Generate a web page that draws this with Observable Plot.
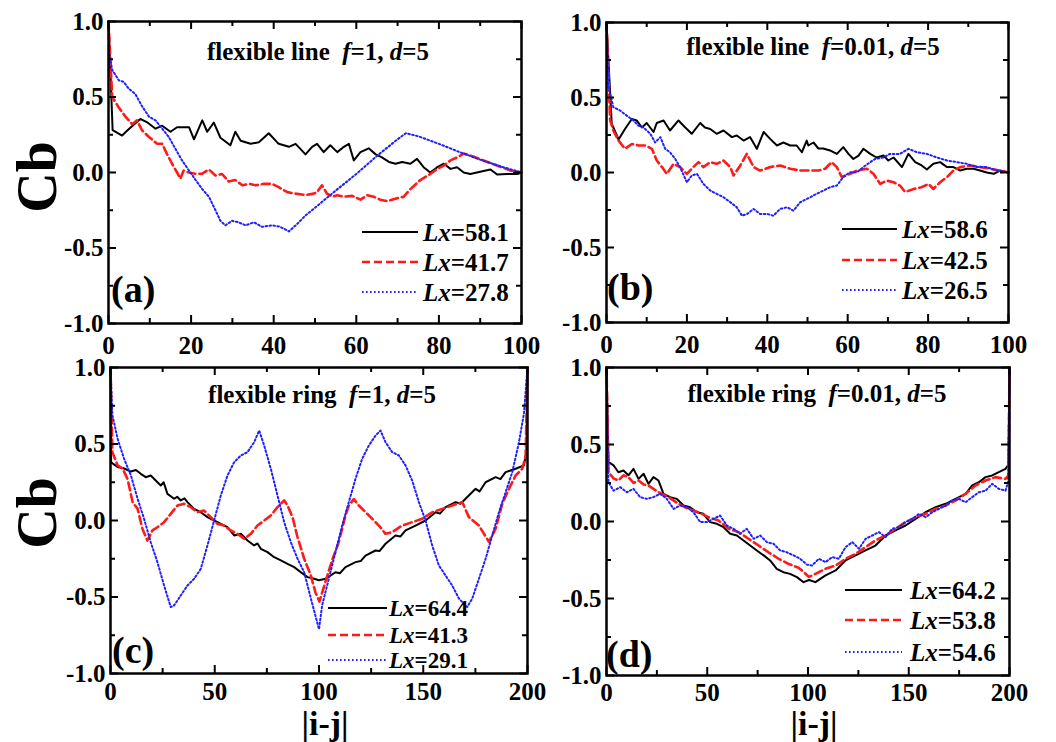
<!DOCTYPE html>
<html><head><meta charset="utf-8">
<script src="https://cdn.jsdelivr.net/npm/d3@7"></script>
<script src="https://cdn.jsdelivr.net/npm/@observablehq/plot@0.6"></script>
<style>
html,body{margin:0;padding:0;background:#fff;}
#root{position:relative;width:1056px;height:742px;overflow:hidden;background:#fff;font-family:"Liberation Serif","Times New Roman",serif;font-weight:bold;color:#000;}
.t{position:absolute;white-space:pre;line-height:1;}
.t i{font-style:italic;}
</style></head><body><div id="root"></div>
<script>
// ---------- data ----------
const xMajorLine = [0,20,40,60,80,100];
const xMinorLine = [10,30,50,70,90];
const xMajorRing = [0,50,100,150,200];
const xMinorRing = [25,75,125,175];
const yMajor = [-1,-0.5,0,0.5,1];
const yMinor = [-0.75,-0.25,0.25,0.75];

const aBlack = [[0,1],[1,0.28],[3.3,0.245],[5,0.29],[7.7,0.355],[9.5,0.33],[11.4,0.29],[13,0.31],[15,0.27],[16.6,0.30],[19.5,0.30],[20.7,0.22],[22.7,0.345],[23.9,0.27],[25.5,0.33],[27.1,0.23],[29.5,0.18],[30.7,0.27],[32,0.21],[34.4,0.19],[36.4,0.20],[38.8,0.26],[41.2,0.19],[43.7,0.17],[45.3,0.19],[47.7,0.12],[49.3,0.17],[50.5,0.19],[52.1,0.135],[53.7,0.18],[55.4,0.135],[57,0.17],[58.2,0.19],[59.4,0.08],[61,0.135],[63,0.16],[64.7,0.12],[66.2,0.10],[67.9,0.07],[69.5,0.058],[71.1,0.07],[73.1,0.058],[74.7,0.09],[76.3,0.035],[77.9,0.0],[79.6,0.035],[81.2,0.058],[82.8,0.024],[84.4,0.035],[86,0.0],[87.6,-0.01],[89.2,0.0],[90.8,0.01],[92.5,0.02],[94.1,-0.013],[96.5,-0.01],[99,-0.01],[100,0]];
const aRed = [[0,1],[0.9,0.50],[2.5,0.43],[4.1,0.37],[5.7,0.32],[6.9,0.345],[8.1,0.28],[9.8,0.235],[11.8,0.19],[13,0.19],[14.2,0.12],[15.4,0.058],[16.6,0],[17.4,-0.04],[18.2,0.013],[19.5,0],[21,-0.008],[22.7,-0.008],[24.3,0.02],[25.9,-0.02],[27.5,-0.01],[29.1,-0.06],[30.7,-0.05],[32.4,-0.085],[34,-0.075],[35.6,-0.085],[37.6,-0.075],[39.6,-0.075],[41.2,-0.097],[43.3,-0.13],[45.3,-0.14],[47.7,-0.15],[49.7,-0.14],[50.5,-0.13],[51.7,-0.085],[52.9,-0.14],[54.2,-0.16],[55.4,-0.15],[57,-0.16],[59,-0.155],[61,-0.18],[62.7,-0.15],[64.2,-0.16],[65.8,-0.18],[67.5,-0.19],[69.9,-0.17],[71.5,-0.16],[73.1,-0.11],[75.5,-0.05],[77.9,-0.01],[79.6,0.024],[81.2,0.046],[82.8,0.08],[84.4,0.10],[86,0.125],[87.6,0.113],[90.8,0.08],[94.1,0.046],[97.3,0.013],[100,0]];
const aBlue = [[0,1],[0.2,0.78],[0.9,0.68],[2.5,0.61],[3.7,0.60],[4.9,0.555],[6.5,0.52],[8.1,0.44],[9.8,0.37],[11.4,0.345],[13,0.29],[14.6,0.235],[16.2,0.157],[17.8,0.08],[19.5,0.013],[21.1,-0.05],[22.7,-0.11],[24.3,-0.16],[25.9,-0.25],[27.1,-0.32],[28.3,-0.35],[29.9,-0.32],[31.5,-0.33],[33.2,-0.35],[35.2,-0.33],[37.2,-0.36],[39.6,-0.35],[41.6,-0.36],[43.7,-0.39],[45.7,-0.34],[47.7,-0.285],[49.7,-0.24],[55,-0.12],[60,-0.01],[65,0.11],[70,0.22],[72,0.26],[75,0.24],[80,0.19],[85,0.135],[90,0.085],[95,0.04],[100,0]];

const bBlack = [[0,1],[1.3,0.325],[3,0.22],[4.6,0.29],[6.3,0.357],[7.5,0.347],[8.8,0.30],[10,0.33],[11.7,0.27],[12.5,0.33],[14.2,0.347],[15.8,0.28],[17.9,0.347],[19.6,0.30],[21.2,0.258],[23.3,0.33],[24.5,0.30],[25.8,0.29],[27.4,0.258],[29.1,0.28],[31.2,0.236],[32.4,0.247],[34.1,0.213],[35.7,0.236],[37.4,0.158],[39.1,0.27],[40.7,0.224],[42.4,0.18],[44,0.2],[45.7,0.18],[47.3,0.18],[48.6,0.135],[49.8,0.213],[50.2,0.18],[51.5,0.2],[52.7,0.16],[53.9,0.16],[55.6,0.147],[57.3,0.124],[58.9,0.169],[60.2,0.124],[61.4,0.09],[62.7,0.113],[63.9,0.158],[65.6,0.124],[67.2,0.1],[68.9,0.113],[70.1,0.08],[71.4,0.1],[73.5,0.036],[75.1,0.124],[76.8,0.069],[78.4,0.047],[79.7,0.02],[81.3,0.058],[83,0.069],[84.7,0.036],[86.3,0.036],[88,0.013],[89.6,0.025],[91.3,0.025],[92.9,0.013],[94.6,0],[96.3,-0.009],[97.9,0.013],[100,0]];
const bRed = [[0,1],[0.9,0.35],[1.7,0.28],[3,0.213],[4.6,0.158],[6.3,0.19],[8,0.18],[9.6,0.18],[11.3,0.158],[12.5,0.08],[13.8,0.036],[15,-0.009],[16.7,0.058],[18.3,0.036],[20,-0.009],[21.6,0.036],[22.9,0.069],[24.1,0.036],[25.8,0.069],[27.4,0.058],[29.1,0.08],[30.8,0.036],[31.6,-0.02],[33.3,0.047],[34.9,0.124],[36.6,0.036],[38.2,0.013],[40.7,0.036],[43.2,0.047],[45.7,0.025],[48.2,0.013],[50.7,0.013],[52.7,0.013],[54.4,0.025],[56,0.069],[57.3,0.036],[58.5,-0.03],[60.6,-0.009],[62.3,0.013],[64.8,0.025],[66.4,-0.009],[68.1,-0.076],[69.7,-0.054],[71.4,-0.065],[73,-0.087],[74.3,-0.13],[76.4,-0.11],[78.4,-0.098],[80.1,-0.076],[81.3,-0.11],[83,-0.065],[84.7,-0.03],[86.3,0.013],[88,0.036],[90.5,0.047],[93,0.036],[95.5,0.025],[97.9,0.013],[100,0]];
const bBlue = [[0,1],[0.5,0.57],[1.7,0.436],[3.4,0.413],[5,0.38],[6.7,0.347],[7.9,0.313],[9.2,0.30],[10.9,0.258],[12.1,0.2],[13.4,0.236],[14.6,0.158],[15.8,0.135],[17.1,0.09],[18.3,0.036],[20,-0.065],[21.2,-0.02],[22.5,-0.009],[24.1,-0.076],[25.8,-0.12],[27.4,-0.142],[29.1,-0.165],[30.8,-0.198],[32.4,-0.232],[33.7,-0.288],[35,-0.276],[36.6,-0.243],[38.2,-0.276],[39.9,-0.276],[41.5,-0.288],[43.2,-0.243],[44.9,-0.232],[46.5,-0.254],[48.2,-0.198],[50.7,-0.165],[52.3,-0.142],[54,-0.12],[55.6,-0.098],[57.3,-0.087],[58.9,-0.03],[60.6,0.002],[62.3,0.002],[63.9,0.036],[65.6,0.069],[66.8,0.09],[68.9,0.1],[70.5,0.124],[73,0.124],[75.1,0.158],[77.2,0.135],[79.7,0.124],[82.2,0.1],[84.7,0.08],[87.2,0.069],[89.6,0.058],[92.1,0.036],[94.6,0.036],[97.1,0.013],[100,0]];

const cBlack = [[0,1],[0.3,0.38],[3.4,0.35],[6.6,0.34],[9.8,0.32],[12.2,0.33],[14.5,0.305],[16.9,0.283],[19.3,0.294],[21.7,0.261],[24.1,0.229],[25.5,0.25],[27.3,0.174],[30.5,0.142],[32,0.155],[33.7,0.131],[35.5,0.145],[36.9,0.12],[40.1,0.076],[43.3,0.054],[46.5,0.022],[49.7,0],[52.9,-0.022],[56.1,-0.044],[59.3,-0.098],[62.5,-0.087],[65.7,-0.131],[68.9,-0.163],[70.5,-0.15],[72.1,-0.185],[75.3,-0.207],[78.5,-0.24],[81.7,-0.261],[84.9,-0.283],[88.1,-0.305],[91.3,-0.338],[94.5,-0.37],[97.7,-0.381],[100,-0.39],[103.1,-0.381],[107.9,-0.338],[110,-0.345],[112.7,-0.305],[117.5,-0.272],[120,-0.265],[122.3,-0.229],[127.1,-0.196],[129,-0.2],[131.9,-0.152],[136.7,-0.098],[139,-0.105],[141.5,-0.065],[146.3,-0.033],[151.1,0],[155.9,0.054],[158,0.045],[160.7,0.087],[165.5,0.12],[168,0.11],[170.3,0.142],[175.1,0.207],[177,0.19],[179.9,0.25],[184.7,0.283],[187,0.27],[189.5,0.316],[194.3,0.338],[198.3,0.36],[199.5,0.45],[200,1]];
const cRed = [[0,1],[0.9,0.447],[3.4,0.36],[5.8,0.34],[8.2,0.27],[10.6,0.12],[13,0.076],[15.3,-0.054],[17.7,-0.131],[20.1,-0.065],[22.5,-0.044],[25.7,-0.011],[28.9,0.043],[32.1,0.098],[35.3,0.109],[38.5,0.087],[41.7,0.054],[44.9,0.065],[48.1,0.022],[51.3,-0.022],[54.5,-0.033],[57.7,-0.065],[60.9,-0.087],[64.1,-0.12],[67.3,-0.087],[70.5,-0.033],[73.7,0],[76.9,0.033],[80.1,0.087],[83.3,0.131],[84.9,0.098],[87.3,0.022],[89.7,-0.109],[92.9,-0.25],[96.1,-0.36],[98.3,-0.47],[100.2,-0.53],[103.1,-0.40],[106.3,-0.26],[109.5,-0.14],[112.7,0.033],[114.3,0.098],[116.7,0.14],[119.1,0.098],[123.9,0.033],[128.7,-0.033],[131.9,-0.087],[135.1,-0.076],[139.9,-0.033],[144.7,-0.011],[149.5,0.011],[154.3,0.054],[159.1,0.076],[163.9,0.098],[168.7,0.12],[171.9,0.022],[176.7,-0.033],[181.5,-0.14],[184.7,-0.054],[187.9,0.109],[191.1,0.207],[194.3,0.294],[197.5,0.338],[199.1,0.42],[200,1]];
const cBlue = [[0,1],[0.9,0.69],[3.4,0.534],[6.6,0.40],[9.8,0.294],[13,0.142],[16.1,0.011],[19.3,-0.142],[22.5,-0.272],[25.7,-0.425],[28.9,-0.566],[30.5,-0.555],[33.7,-0.49],[36.9,-0.425],[40.1,-0.381],[43.3,-0.316],[46.5,-0.163],[49.7,0],[52.9,0.163],[56.1,0.294],[59.3,0.381],[62.5,0.425],[65.7,0.447],[68.9,0.512],[71.3,0.588],[73.7,0.49],[76.9,0.338],[80.1,0.163],[83.3,-0.011],[86.5,-0.142],[89.7,-0.25],[92.9,-0.338],[96.1,-0.51],[100,-0.71],[101.5,-0.555],[104.7,-0.381],[107.9,-0.207],[111.1,-0.033],[114.3,0.12],[117.5,0.272],[120.7,0.403],[123.9,0.49],[127.1,0.555],[129.5,0.588],[131.9,0.512],[135.1,0.447],[138.3,0.425],[141.5,0.36],[144.7,0.261],[147.9,0.12],[151.1,0],[154.3,-0.163],[157.5,-0.294],[160.7,-0.36],[163.9,-0.425],[167.1,-0.51],[171.1,-0.566],[173.5,-0.51],[176.7,-0.381],[179.9,-0.25],[183.1,-0.098],[186.3,0.054],[189.5,0.185],[192.7,0.316],[195.9,0.512],[198.3,0.7],[200,1]];

const dBlack = [[0,1],[1,0.385],[3.5,0.364],[5.9,0.32],[8.4,0.331],[10.9,0.3],[13.4,0.342],[15.9,0.277],[18.4,0.31],[20.8,0.245],[23.3,0.288],[25.8,0.266],[28.3,0.18],[31.6,0.158],[34.9,0.147],[38.2,0.104],[41.5,0.093],[44.8,0.06],[48.1,0.05],[51.4,-0.004],[54.8,-0.015],[58.1,-0.037],[61.4,-0.08],[64.7,-0.091],[68,-0.123],[71.3,-0.156],[74.6,-0.188],[78,-0.22],[81.2,-0.253],[84.5,-0.307],[87.8,-0.329],[91.1,-0.34],[94.5,-0.361],[97.8,-0.394],[100.5,-0.38],[103.7,-0.394],[108.7,-0.35],[113.7,-0.318],[118.6,-0.253],[123.6,-0.22],[128.5,-0.188],[133.5,-0.156],[138.5,-0.091],[143.4,-0.058],[148.4,-0.026],[153.4,0.017],[158.3,0.06],[163.3,0.093],[168.3,0.115],[173.2,0.147],[178.2,0.18],[181.5,0.234],[184.8,0.255],[188.1,0.288],[191.4,0.299],[194.7,0.32],[198,0.342],[199.5,0.37],[200,1]];
const dRed = [[0,1],[1,0.32],[3.5,0.28],[5.9,0.266],[8.4,0.3],[10.9,0.288],[13.4,0.25],[15.9,0.266],[18.4,0.24],[20.8,0.234],[25.8,0.19],[30.8,0.158],[35.7,0.115],[40.7,0.082],[45.7,0.06],[50.6,0.028],[55.6,0.006],[60.6,-0.047],[65.5,-0.069],[70.5,-0.112],[75.5,-0.156],[80.4,-0.2],[85.4,-0.242],[90.3,-0.275],[95.3,-0.3],[98,-0.33],[100.5,-0.36],[103.7,-0.34],[108.7,-0.307],[113.7,-0.286],[118.6,-0.242],[123.6,-0.21],[128.5,-0.167],[133.5,-0.123],[138.5,-0.091],[143.4,-0.047],[148.4,-0.004],[153.4,0.028],[158.3,0.05],[163.3,0.082],[168.3,0.104],[173.2,0.136],[178.2,0.18],[183.1,0.234],[188.1,0.266],[193,0.288],[198,0.277],[199.5,0.3],[200,1]];
const dBlue = [[0,1],[1,0.255],[3.5,0.2],[6.8,0.223],[10.1,0.19],[13.4,0.212],[16.7,0.158],[20,0.147],[23.3,0.158],[26.6,0.18],[29.9,0.147],[33.3,0.082],[36.6,0.104],[39.9,0.093],[43.2,0.06],[46.5,-0.004],[49.8,-0.004],[53.1,0.017],[56.4,0.039],[59.7,-0.026],[63,-0.047],[66.3,-0.08],[69.6,-0.047],[73,-0.112],[76.3,-0.091],[79.6,-0.134],[82.9,-0.145],[86.2,-0.188],[89.5,-0.2],[92.8,-0.22],[96.1,-0.242],[99.4,-0.28],[102,-0.286],[105.4,-0.242],[108.7,-0.264],[112,-0.231],[115.3,-0.242],[118.6,-0.167],[122,-0.134],[125.3,-0.177],[128.6,-0.112],[131.9,-0.091],[135.2,-0.069],[138.5,-0.102],[141.8,-0.047],[145.1,-0.037],[148.4,-0.004],[151.8,0.017],[155.1,0.05],[158.4,0.028],[161.7,0.06],[165,0.082],[168.3,0.104],[171.6,0.136],[174.9,0.147],[178.2,0.125],[181.5,0.158],[184.8,0.19],[188.1,0.2],[191.4,0.245],[194.7,0.212],[198,0.2],[199.3,0.255],[200,1]];

const legendA = ["58.1","41.7","27.8"];
const legendB = ["58.6","42.5","26.5"];
const legendC = ["64.4","41.3","29.1"];
const legendD = ["64.2","53.8","54.6"];

// ---------- styles ----------
const FONT = "'Liberation Serif','Times New Roman',serif";
const seriesStyle = [
  {stroke:"#000000", strokeWidth:2, dash:null},
  {stroke:"#ff1a1a", strokeWidth:2.6, dash:"8,4"},
  {stroke:"#2020ff", strokeWidth:2, dash:"1.6,2.4"}
];

const root = document.getElementById("root");

function panel({left, top, width, height, ml, mr, mt, mb, xDomain, xMajor, xMinor, series, xPad}) {
  const fw = width - ml - mr, fh = height - mt - mb;
  const marks = [];
  series.forEach((s, i) => {
    const st = seriesStyle[i];
    marks.push(Plot.line(s, {x: d => d[0], y: d => d[1], stroke: st.stroke, strokeWidth: st.strokeWidth,
      strokeDasharray: st.dash, strokeLinejoin: "round"}));
  });
  // inward ticks on all four sides
  const tk = (vals, len, kind) => {
    const o = {stroke: "#000", strokeWidth: 2};
    if (kind === "x") {
      marks.push(Plot.ruleX(vals, {...o, insetTop: fh - len}));
      marks.push(Plot.ruleX(vals, {...o, insetBottom: fh - len}));
    } else {
      marks.push(Plot.ruleY(vals, {...o, insetRight: fw - len}));
      marks.push(Plot.ruleY(vals, {...o, insetLeft: fw - len}));
    }
  };
  tk(xMajor, 8, "x"); tk(xMinor, 5, "x");
  tk(yMajor, 8, "y"); tk(yMinor, 5, "y");
  marks.push(Plot.frame({stroke: "#000", strokeWidth: 2.5}));
  marks.push(Plot.axisX({ticks: xMajor, tickSize: 0, tickPadding: xPad, tickFormat: d => String(d),
    fontSize: 25, fontWeight: "bold", fontFamily: FONT, label: null}));
  marks.push(Plot.axisY({ticks: yMajor, tickSize: 0, tickPadding: 5, tickFormat: d => d.toFixed(1),
    fontSize: 25, fontWeight: "bold", fontFamily: FONT, label: null}));
  const svg = Plot.plot({
    width, height, marginLeft: ml, marginRight: mr, marginTop: mt, marginBottom: mb,
    x: {domain: xDomain, axis: null},
    y: {domain: [-1, 1], axis: null},
    style: {background: "transparent", overflow: "visible", fontFamily: FONT, fontSize: "25px", fontWeight: "bold", color: "#000"},
    marks
  });
  svg.style.position = "absolute";
  svg.style.left = left + "px";
  svg.style.top = top + "px";
  svg.style.maxWidth = "none";
  root.appendChild(svg);
}

panel({left:0, top:0, width:540, height:340, ml:108, mr:19, mt:21, mb:17, xDomain:[0,100], xMajor:xMajorLine, xMinor:xMinorLine, series:[aBlack,aRed,aBlue], xPad:13});
panel({left:540, top:0, width:516, height:340, ml:66, mr:48, mt:22, mb:18, xDomain:[0,100], xMajor:xMajorLine, xMinor:xMinorLine, series:[bBlack,bRed,bBlue], xPad:13});
panel({left:0, top:340, width:540, height:402, ml:110, mr:13, mt:27, mb:69, xDomain:[0,200], xMajor:xMajorRing, xMinor:xMinorRing, series:[cBlack,cRed,cBlue], xPad:9});
panel({left:540, top:340, width:516, height:402, ml:66, mr:47, mt:27, mb:67, xDomain:[0,200], xMajor:xMajorRing, xMinor:xMinorRing, series:[dBlack,dRed,dBlue], xPad:8});

// ---------- text overlays ----------
function txt(html, x, baseline, size, align, lh) {
  lh = lh || 1;
  const d = document.createElement("div");
  d.className = "t";
  d.innerHTML = html;
  d.style.fontSize = size + "px";
  d.style.lineHeight = lh;
  d.style.top = (baseline - ((lh - 1.107) / 2 + 0.891) * size) + "px";
  d.style.left = x + "px";
  if (align === "center") d.style.transform = "translateX(-50%)";
  root.appendChild(d);
  return d;
}
function title(kind, f, cx, baseline) {
  txt(`flexible ${kind}&nbsp; <i>f</i>=${f}, <i>d</i>=5`, cx, baseline, 25, "center");
}
title("line", "1", 318, 60);
title("line", "0.01", 813, 55);
title("ring", "1", 322, 403);
title("ring", "0.01", 817, 402);

txt("(a)", 111, 302, 38);
txt("(b)", 607, 300, 38);
txt("(c)", 112, 663, 38);
txt("(d)", 606, 667, 38);

function yLabel(cx, cy) {
  const d = document.createElement("div");
  d.className = "t";
  d.textContent = "Cb";
  d.style.fontSize = "56px";
  d.style.left = cx + "px";
  d.style.top = cy + "px";
  d.style.transform = "translate(-50%,-50%) rotate(-90deg)";
  root.appendChild(d);
}
yLabel(37, 177);
yLabel(37, 513);
txt("|i-j|", 325, 735, 34, "center", 0.8);
txt("|i-j|", 814, 735, 34, "center", 0.8);

function legend(values, lx1, lx2, tx, rows, size) {
  values.forEach((v, i) => {
    const st = seriesStyle[i];
    const cy = rows[i];
    const s = document.createElementNS("http://www.w3.org/2000/svg", "svg");
    s.setAttribute("width", lx2 - lx1);
    s.setAttribute("height", 8);
    s.style.position = "absolute";
    s.style.left = lx1 + "px";
    s.style.top = (cy - 4) + "px";
    const l = document.createElementNS("http://www.w3.org/2000/svg", "line");
    l.setAttribute("x1", 0); l.setAttribute("x2", lx2 - lx1);
    l.setAttribute("y1", 4); l.setAttribute("y2", 4);
    l.setAttribute("stroke", st.stroke);
    l.setAttribute("stroke-width", st.strokeWidth);
    if (st.dash) l.setAttribute("stroke-dasharray", st.dash);
    s.appendChild(l);
    root.appendChild(s);
    txt(`<i>Lx</i>=${v}`, tx, cy + 0.34 * size, size);
  });
}
legend(legendA, 362, 418, 423, [232, 262, 292], 25);
legend(legendB, 842, 897, 902, [229, 260, 290], 25);
legend(legendC, 328, 387, 389, [608, 635, 660], 23);
legend(legendD, 845, 902, 910, [590, 620, 652], 25);
</script></body></html>
